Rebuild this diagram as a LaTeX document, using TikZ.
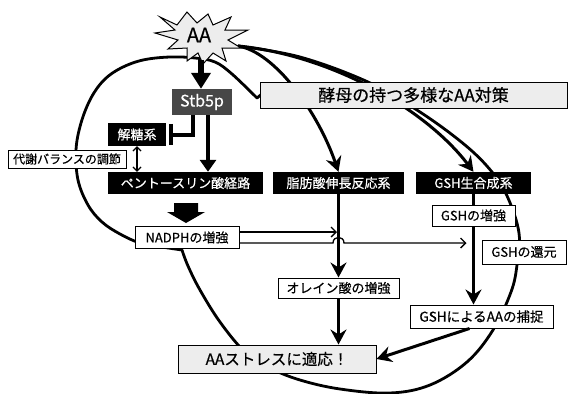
\documentclass[tikz,border=0pt]{standalone}
\usepackage{fontspec}
\setmainfont{Noto Sans CJK JP}[FakeBold=0.5]
\usetikzlibrary{arrows.meta,calc,backgrounds}
\begin{document}
\begin{tikzpicture}[x=1pt,y=-1pt,
  bbox/.style={fill=black,text=white,inner sep=0pt,font=\fontsize{13}{15}\selectfont},
  wbox/.style={draw,fill=white,line width=1pt,inner sep=0pt,font=\fontsize{13}{15}\selectfont},
  gbox/.style={draw,fill=gray!14,line width=1pt,inner sep=0pt},
  fatarrow/.style={line width=3pt,-{Stealth[length=15pt,width=16pt,inset=5pt]}},
  thinarrow/.style={line width=1.3pt,-{Straight Barb[length=5pt,width=10pt]}},
  cell/.style={line width=2.8pt,line join=round,line cap=round}
]
\useasboundingbox (0,0) rectangle (571,394);

% starburst
\filldraw[fill=gray!14,line width=1pt,line join=miter]
 (160,17) -- (177,25) -- (187,12) -- (197,23) -- (208,14) -- (213,25) -- (231,17) -- (225,30)
 -- (248,30) -- (228,40) -- (241,48) -- (222,48) -- (226,61) -- (213,53) -- (203,64) -- (198,53)
 -- (187,61) -- (187,48) -- (168,49) -- (178,40) -- (155,33) -- (175,30) -- cycle;
\node (aa) at (199,35) {\fontsize{20}{22}\selectfont AA};
\coordinate (aar) at (238,46);

% boxes
\node[fill=black!72,text=white,inner sep=0pt,minimum width=60pt,minimum height=26pt,font=\fontsize{16}{18}\selectfont] (stb) at (202,102) {Stb5p};
\node[bbox,minimum width=58pt,minimum height=23pt] (jt) at (137,134.5) {解糖系};
\node[wbox,minimum width=118pt,minimum height=18pt,font=\fontsize{12}{14}\selectfont] (tb) at (67,159) {代謝バランスの調節};
\node[bbox,minimum width=155pt,minimum height=22pt] (ppp) at (185.5,183) {ペントースリン酸経路};
\node[bbox,minimum width=131pt,minimum height=22pt] (fa) at (338.5,183) {脂肪酸伸長反応系};
\node[bbox,minimum width=115pt,minimum height=22pt] (gsh) at (473.5,183) {GSH生合成系};
\node[gbox,minimum width=307pt,minimum height=26pt,font=\fontsize{17}{19}\selectfont] (lab) at (413.5,95) {酵母の持つ多様なAA対策};
\node[wbox,minimum width=104pt,minimum height=22pt] (nad) at (187,237.5) {NADPHの増強};
\node[wbox,minimum width=83pt,minimum height=21pt] (gz) at (473.5,215.5) {GSHの増強};
\node[wbox,minimum width=84pt,minimum height=24pt] (ra) at (524,252) {GSHの還元};
\node[wbox,minimum width=121pt,minimum height=20pt] (ol) at (338.5,288) {オレイン酸の増強};
\node[wbox,minimum width=143pt,minimum height=23pt,font=\fontsize{13.5}{15}\selectfont] (ho) at (481.5,316.5) {GSHによるAAの捕捉};
\node[gbox,minimum width=198pt,minimum height=28pt,font=\fontsize{15.5}{18}\selectfont] (st) at (277,359) {AAストレスに適応！};

\begin{pgfonlayer}{background}
% cell outline
\draw[cell] plot[smooth,tension=0.6] coordinates {(238,46) (300,57) (368,82) (420,112) (465,145) (492,172) (508,198) (519,233) (517,265) (511,292) (493,330) (467,362) (430,385) (390,393) (340,389) (300,380) (270,368) (245,352) (220,322) (200,290) (188,266) (182,250)};
\draw[cell] plot[smooth,tension=0.6] coordinates {(182,250) (162,247) (140,243) (120,234) (102,222) (88,205) (78,180) (76,150) (81,123) (91,98) (104,80) (121,68) (143,60) (170,57) (195,58) (215,62) (232,74) (257,98)} -- (263,93);
% curved arrows from AA
\draw[fatarrow] (aar) .. controls (275,52) and (318,112) .. (fa.north);
\draw[fatarrow] (aar) .. controls (330,55) and (425,108) .. (gsh.north);
% GSH column
\draw[fatarrow] (gsh.south) -- (gsh.south |- ho.north);
\end{pgfonlayer}

% AA -> Stb5p
\draw[line width=6pt,-{Triangle[length=16pt,width=19pt]}] ([xshift=-1pt]stb.north |- aa.south) ++(0,14) -- ([xshift=-1pt]stb.north);
% Stb5p -> pentose
\draw[line width=4pt,-{Triangle[length=12pt,width=16pt]}] ([xshift=6pt]stb.south) -- ([xshift=6pt]stb.south |- ppp.north);
% inhibition
\draw[line width=4pt] ([xshift=-9pt]stb.south) |- ([xshift=5pt]jt.east);
\draw[line width=4.5pt] ([xshift=5pt,yshift=-1pt]jt.north east) -- ([xshift=5pt,yshift=1pt]jt.south east);
% double arrow
\draw[line width=1.2pt,{Straight Barb[length=4pt,width=8pt]}-{Straight Barb[length=4pt,width=8pt]}] (jt.south) -- (jt.south |- ppp.north);
% block arrow pentose -> NADPH
\fill (174,203) -- (198,203) -- (198,212) -- (205,212) -- (186,223) -- (167,212) -- (174,212) -- cycle;
% NADPH arrows
\draw[thinarrow,shorten >=1.5pt] ([yshift=5.5pt]nad.east) -- ([yshift=5.5pt]nad.east -| fa.south);
\draw[thinarrow,shorten >=15pt] ([yshift=-5.5pt]nad.east) -- (333,243) .. controls (333,235.5) and (344,235.5) .. (344,243) -- ([yshift=-5.5pt]nad.east -| ra.west);
% fatty acid column
\draw[fatarrow] (fa.south) -- (ol.north);
\draw[fatarrow] (ol.south) -- (ol.south |- st.north);
% capture -> stress
\draw[fatarrow] ([xshift=-12pt]ho.south) -- (st.east);
\end{tikzpicture}
\end{document}
